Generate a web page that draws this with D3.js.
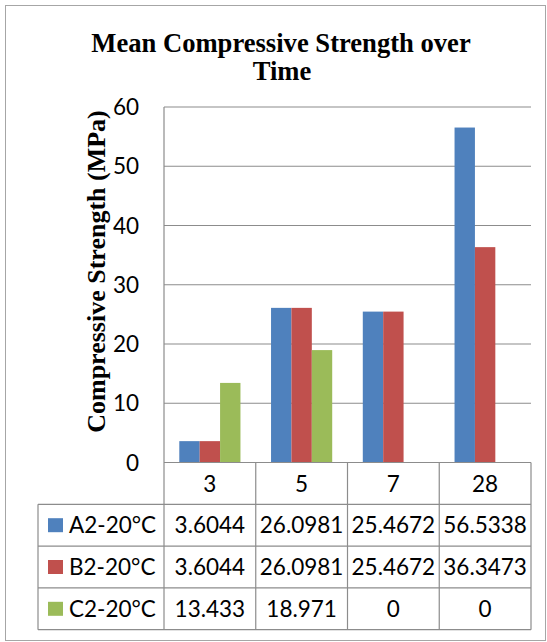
<!DOCTYPE html>
<html>
<head>
<meta charset="utf-8">
<script src="https://cdn.jsdelivr.net/npm/d3@7"></script>
<style>
  body { margin: 0; background: #fff; }
  svg { display: block; }
</style>
</head>
<body>
<svg id="chart" width="547" height="642"></svg>
<script>
// chart data
let categories = ["3", "5", "7", "28"];
let seriesNames = ["A2-20\u00B0C", "B2-20\u00B0C", "C2-20\u00B0C"];
let seriesA = [3.6044, 26.0981, 25.4672, 56.5338];
let seriesB = [3.6044, 26.0981, 25.4672, 36.3473];
let seriesC = [13.433, 18.971, 0, 0];
let seriesLabels = [
    ["3.6044", "26.0981", "25.4672", "56.5338"],
    ["3.6044", "26.0981", "25.4672", "36.3473"],
    ["13.433", "18.971", "0", "0"]
];
let yTicks = [0, 10, 20, 30, 40, 50, 60];
let colors = ["#4F81BD", "#C0504D", "#9BBB59"];

let series = [seriesA, seriesB, seriesC];

let svg = d3.select("#chart");
let gridColor = "#8c8c8c";
let numFont = "Lato, 'Open Sans', sans-serif";
let numSize = "22.5px";
let serif = "'Liberation Serif', 'Times New Roman', serif";

let plotLeft = 164, plotRight = 531;
let plotTop = 107, plotBottom = 462.5;
let tableLeft = 38;
let rowH = 41.8;

// outer border
svg.append("rect")
    .attr("x", 5.5).attr("y", 5.5)
    .attr("width", 540).attr("height", 635)
    .attr("fill", "none")
    .attr("stroke", "#a6a6a6")
    .attr("stroke-width", 1);

let xScale = d3.scaleBand()
    .domain(categories)
    .range([plotLeft, plotRight])
    .paddingInner(0).paddingOuter(0);

let xSub = d3.scaleBand()
    .domain(d3.range(series.length))
    .range([0, xScale.bandwidth()])
    .paddingInner(0).paddingOuter(0.75);

let yScale = d3.scaleLinear()
    .domain([0, 60])
    .range([plotBottom, plotTop]);

// gridlines
svg.append("g")
    .selectAll("line")
    .data(yTicks.filter(d => d > 0))
    .enter()
    .append("line")
    .attr("x1", plotLeft).attr("x2", plotRight)
    .attr("y1", d => yScale(d)).attr("y2", d => yScale(d))
    .attr("stroke", gridColor)
    .attr("stroke-width", 1.2);

// y tick labels
svg.append("g")
    .selectAll("text")
    .data(yTicks)
    .enter()
    .append("text")
    .attr("x", 139)
    .attr("y", d => yScale(d))
    .attr("dy", "0.36em")
    .attr("text-anchor", "end")
    .attr("font-family", numFont)
    .attr("font-size", numSize)
    .attr("fill", "#000")
    .text(d => d);

// bars
series.forEach((values, si) => {
    svg.append("g")
        .selectAll("rect")
        .data(values)
        .enter()
        .append("rect")
        .attr("x", (d, i) => xScale(categories[i]) + xSub(si))
        .attr("width", xSub.bandwidth())
        .attr("y", d => yScale(d))
        .attr("height", d => yScale(0) - yScale(d))
        .attr("fill", colors[si]);
});

// data table
let tableTop = plotBottom;
let rowY = i => tableTop + rowH * (i + 1);
let tableBottom = rowY(series.length);

let tbl = svg.append("g")
    .attr("stroke", gridColor)
    .attr("stroke-width", 1.2);

// axis line and column separators
tbl.append("line")
    .attr("x1", plotLeft).attr("x2", plotLeft)
    .attr("y1", plotTop).attr("y2", tableBottom);
tbl.selectAll(".col")
    .data(categories)
    .enter()
    .append("line")
    .attr("class", "col")
    .attr("x1", d => xScale(d) + xScale.bandwidth())
    .attr("x2", d => xScale(d) + xScale.bandwidth())
    .attr("y1", tableTop).attr("y2", tableBottom);
tbl.append("line")
    .attr("x1", tableLeft).attr("x2", tableLeft)
    .attr("y1", rowY(0)).attr("y2", tableBottom);
// horizontal rules
tbl.append("line")
    .attr("x1", plotLeft).attr("x2", plotRight)
    .attr("y1", tableTop).attr("y2", tableTop);
tbl.selectAll(".row")
    .data(d3.range(series.length + 1))
    .enter()
    .append("line")
    .attr("class", "row")
    .attr("x1", tableLeft).attr("x2", plotRight)
    .attr("y1", i => rowY(i)).attr("y2", i => rowY(i));

// category header
svg.append("g")
    .selectAll("text")
    .data(categories)
    .enter()
    .append("text")
    .attr("x", d => xScale(d) + xScale.bandwidth() / 2)
    .attr("y", tableTop + rowH / 2)
    .attr("dy", "0.36em")
    .attr("text-anchor", "middle")
    .attr("font-family", numFont)
    .attr("font-size", numSize)
    .text(d => d);

// series rows
seriesNames.forEach((name, si) => {
    let cy = rowY(si) + rowH / 2;
    svg.append("rect")
        .attr("x", 48).attr("y", cy - 7)
        .attr("width", 15).attr("height", 14)
        .attr("fill", colors[si]);
    svg.append("text")
        .attr("x", 69).attr("y", cy)
        .attr("dy", "0.36em")
        .attr("font-family", numFont)
        .attr("font-size", numSize)
        .text(name);
    svg.append("g")
        .selectAll("text")
        .data(seriesLabels[si])
        .enter()
        .append("text")
        .attr("x", (d, i) => xScale(categories[i]) + xScale.bandwidth() / 2)
        .attr("y", cy)
        .attr("dy", "0.36em")
        .attr("text-anchor", "middle")
        .attr("font-family", numFont)
        .attr("font-size", numSize)
        .text(d => d);
});

// title
let title = svg.append("text")
    .attr("text-anchor", "middle")
    .attr("font-family", serif)
    .attr("font-weight", "bold")
    .attr("font-size", "26.6px");
title.append("tspan").attr("x", 281).attr("y", 52).text("Mean Compressive Strength over");
title.append("tspan").attr("x", 282).attr("y", 79.5).text("Time");

// y axis title
svg.append("text")
    .attr("transform", `translate(105,271.5) rotate(-90)`)
    .attr("text-anchor", "middle")
    .attr("font-family", serif)
    .attr("font-weight", "bold")
    .attr("font-size", "26px")
    .text("Compressive Strength (MPa)");
</script>
</body>
</html>
